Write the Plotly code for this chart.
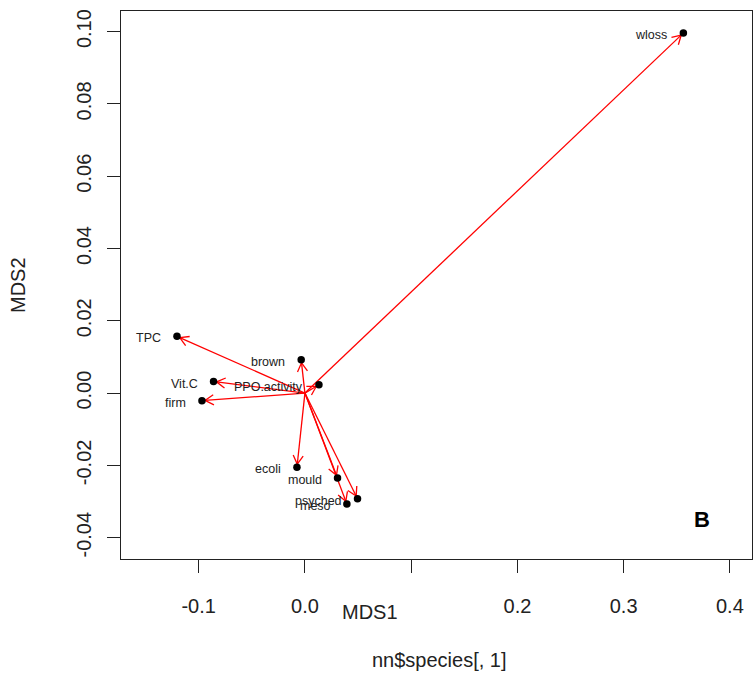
import math
import plotly.graph_objects as go

# ---- data ----
labels = ["wloss", "TPC", "brown", "Vit.C", "PPO.activity", "firm",
          "ecoli", "mould", "psyched", "meso"]
mds1 = [0.3562, -0.1204, -0.0035, -0.0860, 0.0132, -0.0969,
        -0.0075, 0.0307, 0.0495, 0.0395]
mds2 = [0.0996, 0.0157, 0.0092, 0.0032, 0.0023, -0.0021,
        -0.0205, -0.0235, -0.0292, -0.0307]
xtick_vals = [-0.1, 0.0, 0.1, 0.2, 0.3, 0.4]
xtick_text = ["-0.1", "0.0", "", "0.2", "0.3", "0.4"]
ytick_vals = [-0.04, -0.02, 0.00, 0.02, 0.04, 0.06, 0.08, 0.10]
ytick_text = ["-0.04", "-0.02", "0.00", "0.02", "0.04", "0.06", "0.08", "0.10"]

# ---- layout geometry ----
W, H = 753, 677
ML, MR, MT, MB = 121, 1, 11, 118
XR = [-0.1731, 0.4208]
YR = [-0.0459, 0.1057]
pw = W - ML - MR
ph = H - MT - MB
sx = pw / (XR[1] - XR[0])
sy = ph / (YR[1] - YR[0])

FONT = "Liberation Sans, Arial, sans-serif"

# arrows from origin, built in data space (head shape computed in pixel space)
lx, ly, hx, hy = [], [], [], []
head_len, head_ang, short = 10.0, math.radians(30), 3.0
for x, y in zip(mds1, mds2):
    px, py = x * sx, y * sy
    L = math.hypot(px, py)
    f = (L - short) / L
    tx, ty = px * f, py * f
    lx += [0, tx / sx, None]
    ly += [0, ty / sy, None]
    ang = math.atan2(ty, tx)
    for s in (1, -1):
        a = ang + math.pi + s * head_ang
        ex, ey = tx + head_len * math.cos(a), ty + head_len * math.sin(a)
        hx += [ex / sx, tx / sx, None]
        hy += [ey / sy, ty / sy, None]

fig = go.Figure()
fig.add_trace(go.Scatter(x=lx, y=ly, mode="lines",
                         line=dict(color="#ff0000", width=1.3),
                         hoverinfo="skip", showlegend=False))
fig.add_trace(go.Scatter(x=hx, y=hy, mode="lines",
                         line=dict(color="#ff0000", width=1.3),
                         hoverinfo="skip", showlegend=False))
fig.add_trace(go.Scatter(x=mds1, y=mds2, mode="markers",
                         marker=dict(color="black", size=7.5),
                         text=labels, showlegend=False))

for lab, x, y in zip(labels, mds1, mds2):
    fig.add_annotation(x=x, y=y, text=lab, showarrow=False,
                       xanchor="right", yanchor="middle",
                       xshift=-14, yshift=-2,
                       font=dict(family=FONT, size=12.5, color="#222"))

def paper_x(px):
    return (px - ML) / pw

def paper_y(py):
    return (H - MB - py) / ph

fig.add_annotation(xref="paper", yref="paper", x=paper_x(18), y=paper_y(285),
                   text="MDS2", textangle=-90, showarrow=False,
                   xanchor="center", yanchor="middle",
                   font=dict(family=FONT, size=20, color="#222"))
fig.add_annotation(xref="paper", yref="paper", x=paper_x(370), y=paper_y(612),
                   text="MDS1", showarrow=False,
                   xanchor="center", yanchor="middle",
                   font=dict(family=FONT, size=20, color="#222"))
fig.add_annotation(xref="paper", yref="paper", x=paper_x(440), y=paper_y(660),
                   text="nn$species[, 1]", showarrow=False,
                   xanchor="center", yanchor="middle",
                   font=dict(family=FONT, size=20, color="#222"))
fig.add_annotation(xref="paper", yref="paper", x=paper_x(702), y=paper_y(519),
                   text="<b>B</b>", showarrow=False,
                   xanchor="center", yanchor="middle",
                   font=dict(family=FONT, size=22, color="black"))

axis_common = dict(showgrid=False, zeroline=False, showline=True, mirror=True,
                   linecolor="#222", linewidth=1.3, ticks="outside",
                   ticklen=13, tickcolor="#222", tickwidth=1.2,
                   tickfont=dict(family=FONT, size=20, color="#222"))

fig.update_layout(
    width=W, height=H,
    margin=dict(l=ML, r=MR, t=MT, b=MB),
    paper_bgcolor="white", plot_bgcolor="white",
    xaxis=dict(range=XR, tickvals=xtick_vals, ticktext=xtick_text,
               ticklabelstandoff=16, **axis_common),
    yaxis=dict(range=YR, tickvals=ytick_vals, ticktext=ytick_text,
               tickangle=-90, ticklabelstandoff=8, **axis_common),
)

fig.write_html("out.html")
